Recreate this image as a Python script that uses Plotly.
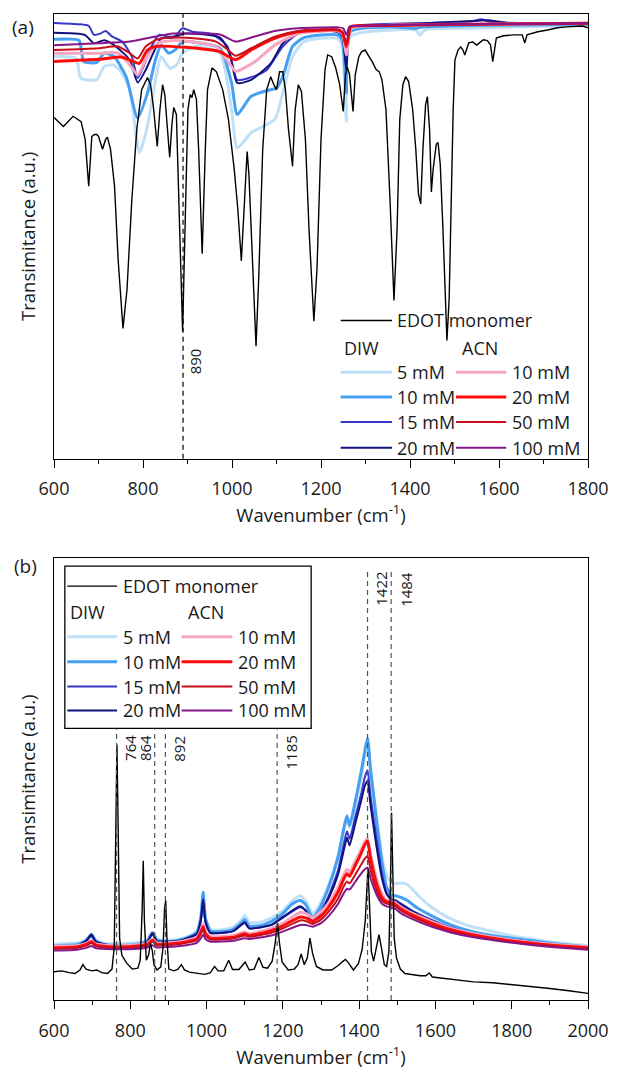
import plotly.graph_objects as go

# ---------------- (a) FTIR spectra: (wavenumber cm^-1, transmittance a.u.) ----------------
ftir_edot = [(600,76.7),(621,74.7),(643,77.0),(661,75.8),(670,71.8),(678,61.3),(685,72.5),(691,72.9),(696,72.9),
    (700,72.5),(709,69.6),(716,71.8),(720,72.3),(727,69.6),(736,61.3),(744,45.0),(755,29.3),(764,38.0),(775,58.4),
    (786,74.0),(797,83.0),(810,85.7),(817,84.1),(824,78.5),(832,70.2),(838,78.5),(844,84.1),(849,81.9),(855,74.0),
    (860,67.8),(865,75.2),(869,79.0),(875,77.4),(881,58.4),(889,28.6),(896,58.4),(901,78.5),(906,81.9),(910,81.2),
    (914,83.0),(920,80.8),(925,69.6),(933,46.1),(940,69.6),(945,83.0),(955,87.9),(965,87.0),(979,83.0),(992,76.3),
    (1005,65.1),(1013,56.2),(1021,44.5),(1026,53.9),(1031,65.1),(1034,69.1),(1038,64.0),(1045,47.2),(1054,25.3),
    (1060,40.5),(1069,69.6),(1078,83.0),(1087,85.9),(1094,84.1),(1100,83.0),(1107,87.0),(1114,87.0),(1120,83.0),
    (1127,74.0),(1136,65.8),(1142,78.5),(1149,84.1),(1156,82.6),(1165,71.8),(1173,51.7),(1184,30.9),(1191,42.7),
    (1200,71.8),(1209,87.5),(1215,90.8),(1224,90.4),(1233,87.9),(1242,84.1),(1250,78.1),(1255,86.4),(1259,88.1),
    (1264,86.4),(1272,78.1),(1277,86.4),(1285,90.4),(1291,91.5),(1299,91.9),(1306,90.8),(1315,89.3),(1324,87.5),
    (1331,87.0),(1337,85.2),(1346,78.5),(1355,58.4),(1364,35.6),(1371,51.7),(1377,76.3),(1384,84.1),(1390,85.9),
    (1397,84.8),(1406,78.5),(1413,69.6),(1419,59.5),(1424,57.3),(1429,69.6),(1435,79.6),(1439,81.4),(1444,74.0),
    (1448,60.0),(1452,65.1),(1459,70.7),(1463,71.1),(1468,66.2),(1474,51.7),(1479,36.0),(1483,26.6),(1488,36.0),
    (1492,58.4),(1497,78.5),(1501,89.7),(1508,91.9),(1514,92.6),(1519,91.9),(1523,90.8),(1528,92.6),(1532,93.5),
    (1541,93.7),(1550,93.0),(1556,93.5),(1565,94.2),(1574,94.0),(1581,93.0),(1586,89.3),(1590,92.4),(1594,94.6),
    (1610,95.1),(1632,95.3),(1652,95.3),(1658,93.5),(1663,95.3),(1687,96.0),(1709,96.4),(1731,96.9),(1753,97.1),
    (1776,97.3),(1787,97.3),(1800,96.9)]

ftir_diw_5 = [(600,90.4),(650,90.0),(660,85.6),(696,85.2),(713,88.2),(731,88.6),(748,87.4),(770,83.0),(792,68.8),
    (810,74.8),(828,85.2),(841,90.4),(860,87.8),(876,88.6),(889,91.2),(920,92.7),(973,91.2),(999,78.5),(1012,69.9),
    (1043,73.3),(1096,76.3),(1114,82.2),(1136,90.4),(1162,93.8),(1237,94.5),(1248,92.5),(1257,75.9),(1266,94.9),
    (1360,96.4),(1413,96.4),(1422,95.3),(1435,96.5),(1536,96.8),(1800,97.5)]
ftir_diw_10 = [(600,94.3),(656,94.1),(662,91.5),(667,89.3),(696,89.1),(713,91.2),(735,90.4),(762,85.9),(788,76.6),
    (810,82.2),(828,89.7),(841,93.0),(858,91.2),(874,92.1),(889,93.8),(920,93.6),(973,92.3),(999,84.5),(1012,77.4),
    (1043,81.5),(1087,83.0),(1100,83.3),(1114,85.9),(1136,92.7),(1162,94.7),(1237,95.3),(1248,94.0),(1257,82.2),
    (1266,96.0),(1360,97.1),(1413,96.8),(1430,97.1),(1800,97.7)]
ftir_diw_15 = [(600,98.0),(656,97.7),(678,97.3),(690,95.3),(704,95.6),(716,96.2),(731,94.9),(753,93.8),(775,90.4),
    (788,85.6),(801,88.2),(819,92.7),(836,95.3),(858,94.9),(872,95.0),(889,96.8),(911,96.0),(955,95.5),(990,92.7),
    (1012,85.2),(1043,85.8),(1078,87.4),(1114,92.7),(1149,95.6),(1237,96.0),(1248,95.0),(1257,88.2),(1266,96.8),
    (1290,97.5),(1448,98.0),(1536,98.3),(1560,98.8),(1580,98.2),(1800,97.9)]
ftir_diw_20 = [(600,95.8),(669,95.3),(690,93.4),(713,94.1),(735,93.0),(770,89.7),(788,84.6),(806,87.4),(823,91.2),
    (841,94.5),(867,94.7),(894,95.6),(973,94.7),(995,91.0),(1012,84.5),(1043,85.2),(1087,88.9),(1114,93.4),
    (1149,96.0),(1237,96.0),(1248,95.0),(1257,87.4),(1266,96.8),(1360,97.5),(1554,98.5),(1575,98.6),(1624,98.0),
    (1800,97.9)]
ftir_acn_10 = [(600,91.2),(700,91.2),(744,91.2),(770,88.6),(788,86.3),(806,89.7),(832,93.4),(867,94.0),(920,93.6),
    (964,92.7),(990,89.5),(1008,87.1),(1030,88.0),(1052,89.3),(1096,93.0),(1149,95.6),(1237,96.2),(1248,95.5),
    (1257,90.8),(1266,96.6),(1272,97.0),(1360,97.5),(1536,97.7),(1800,97.9)]
ftir_acn_20 = [(600,89.3),(700,89.8),(753,90.3),(779,89.3),(792,88.9),(810,91.9),(828,92.7),(894,92.5),(973,91.5),
    (1008,89.7),(1043,91.9),(1096,94.5),(1149,96.0),(1237,96.4),(1248,95.8),(1257,92.7),(1266,97.0),(1272,97.3),
    (1360,97.4),(1536,97.7),(1800,97.9)]
ftir_acn_50 = [(600,91.9),(700,92.3),(744,92.7),(770,91.2),(788,90.0),(806,92.7),(832,94.3),(867,94.7),(920,94.5),
    (964,93.8),(990,92.0),(1008,90.6),(1043,92.3),(1096,94.9),(1149,96.2),(1237,96.5),(1248,96.0),(1257,93.4),
    (1266,97.0),(1272,97.3),(1360,97.5),(1536,97.7),(1800,97.9)]
ftir_acn_100 = [(600,93.0),(700,93.4),(770,93.8),(797,94.3),(832,95.0),(867,95.6),(920,95.6),(973,95.4),(1008,93.8),
    (1043,94.7),(1096,96.2),(1149,96.8),(1237,97.0),(1250,96.8),(1257,95.3),(1264,97.2),(1272,97.3),(1360,97.5),
    (1536,97.7),(1800,97.9)]

# ---------------- (b) Raman spectra ----------------
raman_edot = [(600,6.4),(620,6.6),(640,6.2),(655,6.0),(668,6.8),(676,8.0),(684,7.0),(700,6.6),(712,6.8),(725,6.2),
    (740,6.0),(752,7.0),(758,12.0),(762,40.0),(765,57.8),(768,40.0),(772,14.0),(778,10.1),(790,8.4),(805,7.0),
    (820,7.2),(826,9.0),(831,20.0),(834,31.5),(837,18.0),(842,9.0),(848,10.2),(853,12.8),(858,11.0),(862,8.0),
    (870,6.8),(880,7.5),(886,12.0),(890,21.0),(893,22.5),(896,14.0),(901,7.0),(915,6.6),(925,7.0),(934,8.0),
    (942,6.8),(955,6.3),(975,6.0),(995,5.8),(1010,6.2),(1021,7.6),(1030,6.6),(1045,6.6),(1058,9.0),(1068,6.9),
    (1085,6.9),(1101,8.6),(1112,6.8),(1125,7.0),(1137,9.6),(1148,7.4),(1160,7.2),(1172,8.8),(1180,13.0),(1186,17.4),
    (1191,13.0),(1198,8.6),(1214,6.8),(1230,7.0),(1240,8.0),(1248,10.4),(1256,8.0),(1264,9.5),(1271,14.0),
    (1278,10.5),(1288,7.6),(1305,6.8),(1328,6.8),(1345,7.8),(1358,8.8),(1364,9.2),(1372,8.4),(1385,6.8),(1398,8.2),
    (1408,11.5),(1416,18.0),(1420,26.0),(1423,29.7),(1427,22.0),(1432,11.0),(1438,8.8),(1446,12.0),(1452,14.8),
    (1458,12.0),(1466,8.0),(1472,7.6),(1478,11.0),(1482,26.0),(1485,42.4),(1488,30.0),(1492,14.0),(1498,9.5),
    (1508,7.0),(1520,6.0),(1540,5.7),(1560,5.5),(1575,5.5),(1584,6.1),(1592,5.2),(1620,4.9),(1660,4.6),(1700,4.1),
    (1750,3.9),(1800,3.5),(1850,3.1),(1900,2.6),(1950,2.1),(2000,1.5)]

raman_diw_5 = [(600,12.6),(630,12.8),(660,12.9),(685,13.6),(698,15.0),(710,13.6),(730,12.9),(760,12.7),(790,12.8),
    (820,13.0),(845,13.6),(858,15.4),(870,13.8),(900,13.5),(930,13.8),(955,14.5),(975,15.5),(985,18.5),(991,24.0),
    (997,18.5),(1010,16.0),(1040,15.9),(1070,16.5),(1090,18.0),(1100,19.2),(1112,17.6),(1140,17.6),(1170,18.6),
    (1200,20.2),(1225,22.5),(1245,23.6),(1260,22.4),(1278,19.6),(1295,21.4),(1320,26.0),(1345,32.5),(1360,38.5),
    (1368,41.0),(1375,39.0),(1390,44.0),(1405,50.0),(1415,55.5),(1422,58.5),(1430,52.0),(1445,42.0),(1460,32.5),
    (1472,28.0),(1484,26.8),(1495,26.4),(1510,26.5),(1525,26.2),(1540,25.0),(1560,23.2),(1590,21.0),(1630,18.8),
    (1680,17.0),(1750,15.5),(1820,14.2),(1900,13.2),(1960,12.6),(2000,12.3)]
raman_diw_10 = [(600,12.2),(630,12.4),(660,12.5),(685,13.5),(698,14.8),(710,13.3),(730,12.5),(760,12.4),(790,12.4),
    (820,12.6),(845,13.4),(858,15.2),(870,13.5),(900,13.2),(930,13.6),(955,14.3),(975,15.5),(985,18.8),(991,24.4),
    (997,18.5),(1010,15.6),(1040,15.5),(1070,16.0),(1090,17.4),(1100,18.2),(1112,16.8),(1140,16.8),(1170,17.8),
    (1200,19.6),(1225,21.8),(1245,22.6),(1260,21.6),(1278,18.6),(1295,20.5),(1320,25.5),(1345,32.5),(1360,39.0),
    (1368,41.7),(1375,39.5),(1390,45.0),(1405,51.5),(1415,56.5),(1422,59.3),(1430,52.0),(1445,41.0),(1460,31.0),
    (1472,25.5),(1484,23.8),(1495,23.6),(1510,23.2),(1525,22.6),(1550,21.0),(1589,19.1),(1640,17.0),(1700,15.4),
    (1780,14.2),(1845,13.5),(1920,12.7),(2000,12.0)]
raman_diw_15 = [(600,12.0),(660,12.2),(685,13.3),(698,14.5),(710,13.0),(760,12.2),(820,12.4),(845,13.2),(858,15.0),
    (870,13.3),(930,13.4),(975,15.0),(985,18.0),(991,22.5),(997,17.6),(1010,15.2),(1070,15.6),(1100,17.4),
    (1112,16.2),(1170,17.0),(1200,18.6),(1245,21.0),(1260,20.2),(1278,17.8),(1295,19.5),(1320,23.5),(1345,29.5),
    (1360,35.5),(1368,38.2),(1375,36.5),(1390,41.5),(1405,46.5),(1415,50.5),(1422,52.0),(1430,46.0),(1445,37.0),
    (1460,28.5),(1472,24.2),(1484,22.8),(1495,22.6),(1510,21.8),(1540,20.2),(1589,18.2),(1640,16.4),(1700,15.0),
    (1780,13.8),(1845,13.2),(1920,12.4),(2000,11.8)]
raman_diw_20 = [(600,12.0),(660,12.2),(685,13.5),(698,14.8),(710,13.2),(760,12.2),(820,12.4),(845,13.2),(858,15.1),
    (870,13.3),(930,13.4),(975,15.0),(985,18.2),(991,22.8),(997,17.8),(1010,15.2),(1070,15.6),(1100,17.6),
    (1112,16.2),(1170,17.0),(1200,18.8),(1245,21.2),(1260,20.2),(1278,17.6),(1295,19.2),(1320,23.0),(1345,28.5),
    (1360,34.0),(1368,36.8),(1375,35.0),(1390,40.0),(1405,45.0),(1415,48.5),(1422,49.6),(1430,44.0),(1445,35.0),
    (1460,27.5),(1472,24.0),(1484,22.8),(1495,22.4),(1510,21.6),(1540,20.0),(1589,18.0),(1640,16.2),(1700,14.8),
    (1780,13.7),(1845,13.0),(1920,12.3),(2000,11.8)]
raman_acn_10 = [(600,12.2),(660,12.3),(685,12.8),(698,13.4),(710,12.7),(760,12.3),(820,12.5),(845,12.9),(858,13.8),
    (870,12.9),(930,13.2),(975,14.2),(985,15.8),(991,17.2),(997,15.4),(1010,14.4),(1070,14.6),(1100,15.4),
    (1112,15.0),(1170,16.2),(1200,17.4),(1245,19.8),(1260,19.6),(1278,18.6),(1300,20.0),(1320,22.0),(1345,25.5),
    (1360,28.5),(1368,29.6),(1375,29.0),(1390,31.5),(1405,34.0),(1415,35.8),(1422,36.6),(1430,33.0),(1445,27.5),
    (1460,24.0),(1472,22.6),(1484,22.4),(1495,22.0),(1510,21.0),(1540,19.6),(1589,17.8),(1640,16.2),(1700,15.0),
    (1780,13.8),(1845,13.1),(1920,12.5),(2000,12.0)]
raman_acn_20 = [(600,11.8),(660,12.0),(685,12.6),(698,13.2),(710,12.4),(760,12.0),(820,12.2),(845,12.6),(858,13.5),
    (870,12.6),(930,12.9),(975,13.9),(985,15.4),(991,16.6),(997,15.0),(1010,14.0),(1070,14.2),(1100,15.0),
    (1112,14.6),(1170,15.7),(1200,16.8),(1245,18.8),(1260,18.6),(1278,17.8),(1300,19.0),(1320,21.0),(1345,24.5),
    (1360,27.5),(1368,28.6),(1375,28.0),(1390,30.5),(1405,33.2),(1415,35.2),(1422,36.0),(1430,32.0),(1445,26.5),
    (1460,23.2),(1472,22.2),(1484,22.0),(1495,21.6),(1510,20.6),(1540,19.2),(1589,17.4),(1640,15.9),(1700,14.7),
    (1780,13.6),(1845,12.9),(1920,12.3),(2000,11.8)]
raman_acn_50 = [(600,11.6),(660,11.8),(685,12.3),(698,12.9),(710,12.2),(760,11.8),(820,12.0),(845,12.4),(858,13.2),
    (870,12.4),(930,12.7),(975,13.6),(985,15.0),(991,16.0),(997,14.6),(1010,13.7),(1070,13.9),(1100,14.6),
    (1112,14.3),(1170,15.2),(1200,16.2),(1245,18.0),(1260,17.9),(1278,17.2),(1300,18.2),(1320,20.0),(1345,23.0),
    (1360,25.8),(1368,26.8),(1375,26.4),(1390,28.4),(1405,30.6),(1415,32.0),(1422,32.6),(1430,29.5),(1445,25.0),
    (1460,22.5),(1472,21.8),(1484,21.6),(1495,21.2),(1510,20.2),(1540,18.8),(1589,17.0),(1640,15.6),(1700,14.4),
    (1780,13.4),(1845,12.7),(1920,12.1),(2000,11.6)]
raman_acn_100 = [(600,11.2),(660,11.4),(685,11.8),(698,12.2),(710,11.7),(760,11.5),(820,11.6),(845,11.9),(858,12.4),
    (870,11.9),(930,12.2),(975,13.0),(985,14.0),(991,14.8),(997,13.8),(1010,13.2),(1070,13.4),(1100,14.0),
    (1112,13.8),(1170,14.6),(1200,15.5),(1245,17.0),(1260,17.0),(1278,16.6),(1300,17.4),(1320,19.0),(1345,21.8),
    (1360,24.2),(1368,25.2),(1375,25.0),(1390,26.8),(1405,28.6),(1415,29.6),(1422,30.0),(1430,27.5),(1445,24.0),
    (1460,21.8),(1472,21.2),(1484,21.0),(1495,20.6),(1510,19.6),(1540,18.3),(1589,16.6),(1640,15.3),(1700,14.2),
    (1780,13.2),(1845,12.5),(1920,11.9),(2000,11.4)]

# ---------------- labels, colours, marker positions ----------------
diw_labels = ["5 mM", "10 mM", "15 mM", "20 mM"]
acn_labels = ["10 mM", "20 mM", "50 mM", "100 mM"]
diw_colors = ["#bfe0f7", "#46a0f2", "#3737c8", "#12127e"]
acn_colors = ["#f5a6c0", "#ff0a0a", "#c8101a", "#86168a"]
diw_widths = [3, 3, 2, 2]
acn_widths = [3, 3, 2, 2]
ftir_marks = [890]
raman_marks_low = [764, 864, 892, 1185]
raman_marks_high = [1422, 1484]

FONT = "Open Sans"
TXT = "#1a1a1a"
W, H = 621, 1073
ML, MR, MT, MB = 54, 25, 14, 68


def px(x):
    return (x - ML) / (W - ML - MR)


def py(y):
    return (H - MB - y) / (H - MT - MB)


def xy(points):
    return [p[0] for p in points], [p[1] for p in points]


fig = go.Figure()

ftir_sets = [ftir_diw_5, ftir_diw_10, ftir_diw_15, ftir_diw_20, ftir_acn_10, ftir_acn_20, ftir_acn_50, ftir_acn_100]
raman_sets = [raman_diw_5, raman_diw_10, raman_diw_15, raman_diw_20,
              raman_acn_10, raman_acn_20, raman_acn_50, raman_acn_100]
colors = diw_colors + acn_colors
widths = diw_widths + acn_widths
names = ["DIW " + s for s in diw_labels] + ["ACN " + s for s in acn_labels]

for pts, c, w, n in zip(ftir_sets, colors, widths, names):
    x, y = xy(pts)
    fig.add_trace(go.Scatter(x=x, y=y, mode="lines", name=n, showlegend=False,
                             line=dict(color=c, width=w, shape="spline", smoothing=0.6),
                             xaxis="x", yaxis="y"))
x, y = xy(ftir_edot)
fig.add_trace(go.Scatter(x=x, y=y, mode="lines", name="EDOT monomer", showlegend=False,
                         line=dict(color="black", width=1.4), xaxis="x", yaxis="y"))

for pts, c, w, n in zip(raman_sets, colors, widths, names):
    x, y = xy(pts)
    fig.add_trace(go.Scatter(x=x, y=y, mode="lines", name=n, showlegend=False,
                             line=dict(color=c, width=w, shape="spline", smoothing=0.5),
                             xaxis="x2", yaxis="y2"))
x, y = xy(raman_edot)
fig.add_trace(go.Scatter(x=x, y=y, mode="lines", name="EDOT monomer", showlegend=False,
                         line=dict(color="black", width=1.4), xaxis="x2", yaxis="y2"))

shapes = []
annotations = []
small_font = dict(family=FONT, size=15, color=TXT)
big_font = dict(family=FONT, size=18, color=TXT)

# reference peak lines with their wavenumber labels
for v in ftir_marks:
    shapes.append(dict(type="line", xref="x", yref="y domain", x0=v, x1=v, y0=0, y1=1,
                       line=dict(color="black", width=1.2, dash="5px,4px")))
    annotations.append(dict(x=v, xref="x", y=py(363), yref="paper", xanchor="center", yanchor="middle",
                            text=str(v), textangle=-90, showarrow=False, xshift=12, font=small_font))

for v in raman_marks_low + raman_marks_high:
    top = 733 if v in raman_marks_low else 571
    shapes.append(dict(type="line", xref="x2", yref="paper", x0=v, x1=v, y0=py(1005), y1=py(top),
                       line=dict(color="#555555", width=1.2, dash="5px,4px")))
    shift = -9 if v == 864 else 14
    ytop = 737 if v in raman_marks_low else 573
    annotations.append(dict(x=v, xref="x2", y=py(ytop), yref="paper", xanchor="center", yanchor="top",
                            text=str(v), textangle=-90, showarrow=False, xshift=shift, font=small_font))


def legend(edot_y, header_y, rows_y, c1_line, c1_text, c2_line, c2_text, diw_x, acn_x):
    shapes.append(dict(type="line", xref="paper", yref="paper", x0=px(c1_line[0]), x1=px(c1_line[1]),
                       y0=py(edot_y), y1=py(edot_y), line=dict(color="black", width=1.4)))
    annotations.append(dict(x=px(c1_text), y=py(edot_y), xref="paper", yref="paper", xanchor="left",
                            yanchor="middle", text="EDOT monomer", showarrow=False, font=big_font))
    for hx, ht in ((diw_x, "DIW"), (acn_x, "ACN")):
        annotations.append(dict(x=px(hx), y=py(header_y), xref="paper", yref="paper", xanchor="left",
                                yanchor="middle", text=ht, showarrow=False, font=big_font))
    for i, ry in enumerate(rows_y):
        for line_x, text_x, lab, col, wd in ((c1_line, c1_text, diw_labels[i], diw_colors[i], diw_widths[i]),
                                             (c2_line, c2_text, acn_labels[i], acn_colors[i], acn_widths[i])):
            shapes.append(dict(type="line", xref="paper", yref="paper", x0=px(line_x[0]), x1=px(line_x[1]),
                               y0=py(ry), y1=py(ry), line=dict(color=col, width=wd)))
            annotations.append(dict(x=px(text_x), y=py(ry), xref="paper", yref="paper", xanchor="left",
                                    yanchor="middle", text=lab, showarrow=False, font=big_font))


legend(322, 350, [374, 399, 424, 450], (345, 397), 400, (462, 513), 517, 346, 466)
shapes.append(dict(type="rect", xref="paper", yref="paper", x0=px(65), x1=px(315), y0=py(732), y1=py(569),
                   line=dict(color="black", width=1.3), fillcolor="rgba(0,0,0,0)"))
legend(589, 615, [640, 665, 690, 714], (67.5, 118), 122, (183.5, 235), 239, 68, 188)

for lbl, lx, ly in (("(a)", 23, 27), ("(b)", 25, 569)):
    annotations.append(dict(x=px(lx), y=py(ly), xref="paper", yref="paper", xanchor="center",
                            yanchor="middle", text=lbl, showarrow=False,
                            font=dict(family=FONT, size=19, color=TXT)))

axis_common = dict(showline=True, linecolor="black", linewidth=1.3, mirror=True, showgrid=False,
                   zeroline=False)
xcommon = dict(axis_common, ticks="outside", ticklen=8, tickwidth=1.3, tickcolor="black", dtick=200,
               ticklabelstandoff=6, tickfont=dict(family=FONT, size=18, color=TXT),
               minor=dict(ticks="outside", ticklen=4, tickwidth=1.3, tickcolor="black", dtick=100),
               title=dict(text="Wavenumber (cm<sup>-1</sup>)", font=dict(family=FONT, size=18.5, color=TXT),
                          standoff=6))
ycommon = dict(axis_common, showticklabels=False, ticks="",
               title=dict(text="Transimitance (a.u.)", font=dict(family=FONT, size=18.5, color=TXT),
                          standoff=12))

fig.update_layout(
    width=W, height=H, margin=dict(l=ML, r=MR, t=MT, b=MB),
    paper_bgcolor="white", plot_bgcolor="white", showlegend=False,
    xaxis=dict(xcommon, domain=[0, 1], anchor="y", range=[600, 1800], tick0=600),
    yaxis=dict(ycommon, domain=[py(461), 1], anchor="x", range=[0, 100]),
    xaxis2=dict(xcommon, domain=[0, 1], anchor="y2", range=[600, 2000], tick0=600),
    yaxis2=dict(ycommon, domain=[0, py(561)], anchor="x2", range=[0, 100]),
    shapes=shapes, annotations=annotations,
)

fig.write_html("out.html")
